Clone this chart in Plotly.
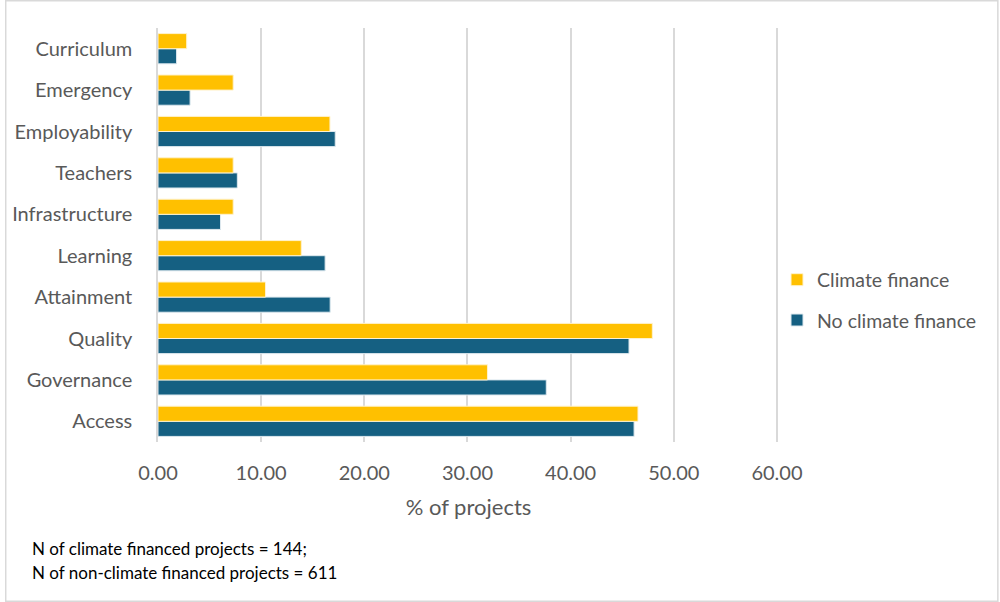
import plotly.graph_objects as go

# categories bottom -> top as drawn by plotly
categories = ["Access", "Governance", "Quality", "Attainment", "Learning",
              "Infrastructure", "Teachers", "Employability", "Emergency", "Curriculum"]
climate = [46.53, 31.94, 47.92, 10.42, 13.89, 7.29, 7.29, 16.67, 7.29, 2.78]
no_climate = [46.15, 37.64, 45.66, 16.69, 16.20, 6.06, 7.69, 17.18, 3.11, 1.80]
x_ticks = [0, 10, 20, 30, 40, 50, 60]
notes = ["N of climate financed projects = 144;", "N of non-climate financed projects = 611"]

FONT = "Lato"
GREY = "#595959"
L, R, T, B = 154, 221, 28, 160
PW, PH = 1000 - L - R, 602 - T - B  # plot area size in px

fig = go.Figure()
# first trace sits lower in each group for horizontal bars
fig.add_trace(go.Bar(y=categories, x=no_climate, orientation="h", name="No climate finance",
                     legendgroup="b", legendrank=2,
                     marker=dict(color="#156082", line=dict(color="#dde8ee", width=1))))
fig.add_trace(go.Bar(y=categories, x=climate, orientation="h", name="Climate finance",
                     legendgroup="a", legendrank=1,
                     marker=dict(color="#FFC000", line=dict(color="#fff2cc", width=1))))

fig.update_layout(
    width=1000, height=602,
    paper_bgcolor="white", plot_bgcolor="white",
    barmode="group", bargap=0.27, bargroupgap=0,
    margin=dict(l=L, r=R, t=T, b=B),
    font=dict(family=FONT, size=20, color=GREY),
    showlegend=True,
    legend=dict(traceorder="grouped", x=(777 - L) / PW, y=(442 - 300) / PH,
                xanchor="left", yanchor="middle", bgcolor="rgba(0,0,0,0)",
                font=dict(size=19.5, color=GREY), itemwidth=30, tracegroupgap=12),
    xaxis=dict(range=[0, 60.2], tickvals=x_ticks, tickformat=".2f",
               showgrid=True, gridcolor="#d9d9d9", gridwidth=1.5, zeroline=False,
               showline=False, ticks="", ticklabelstandoff=17,
               title=dict(text="% of projects", font=dict(size=22, color=GREY), standoff=16)),
    yaxis=dict(showgrid=False, showline=True, linecolor="#d9d9d9", linewidth=1.5,
               ticks="", ticklabelstandoff=20),
    annotations=[
        dict(text=t, xref="paper", yref="paper", x=(25 - L) / PW, y=(602 - B - yc) / PH,
             xanchor="left", yanchor="middle", align="left", showarrow=False,
             font=dict(family=FONT, size=17, color="black"))
        for t, yc in zip(notes, [548, 572])
    ],
    shapes=[dict(type="rect", xref="paper", yref="paper",
                 x0=(0.75 - L) / PW, x1=1 + (R - 0.75) / PW,
                 y0=-(B - 0.75) / PH, y1=1 + (T - 0.75) / PH,
                 line=dict(color="#d9d9d9", width=1.5))],
)

fig.write_html("out.html", config={"displayModeBar": False},
               post_script="document.body.style.margin='0';")
